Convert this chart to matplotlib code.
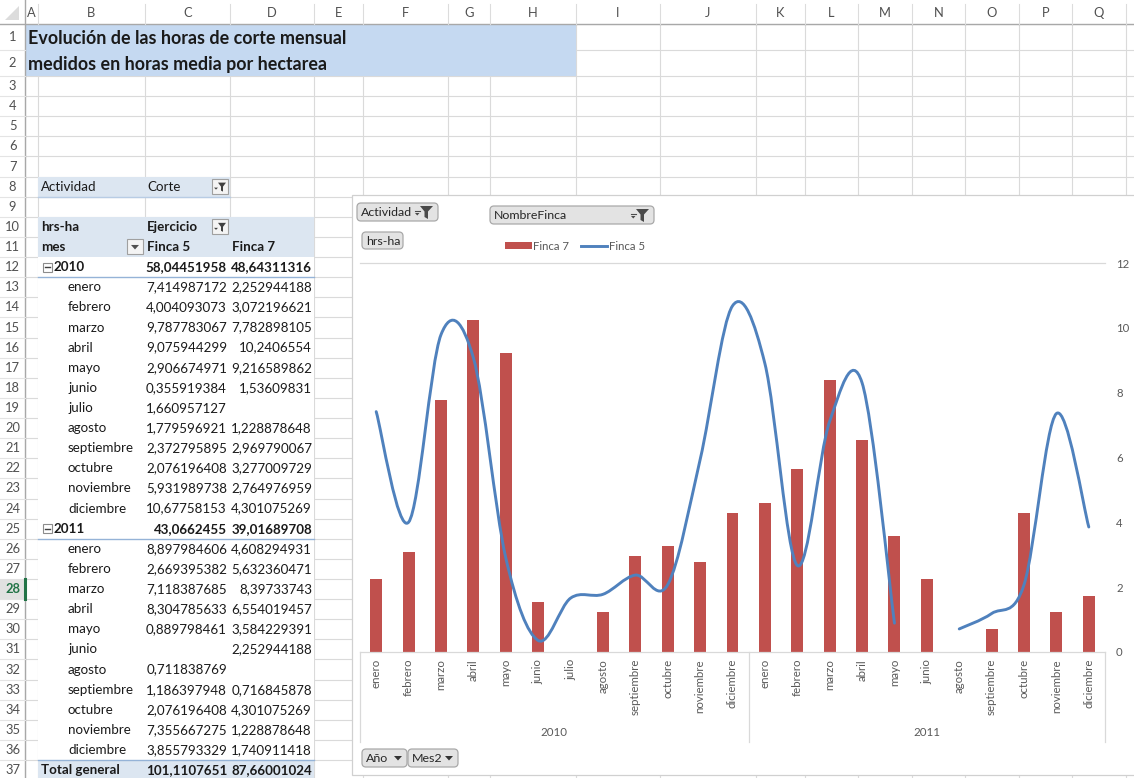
import numpy as np
import matplotlib
matplotlib.use('Agg')
import matplotlib.pyplot as plt
from matplotlib.patches import Rectangle, FancyBboxPatch, Polygon, Patch, PathPatch
from matplotlib.lines import Line2D
from matplotlib.path import Path
import matplotlib.transforms as mtransforms

plt.rcParams['font.family'] = ['Lato', 'DejaVu Sans']

# ---------------- data ----------------
title_lines = ["Evolución de las horas de corte mensual",
               "medidos en horas media por hectarea"]
years = ["2010", "2011"]
months_2010 = ["enero", "febrero", "marzo", "abril", "mayo", "junio", "julio",
               "agosto", "septiembre", "octubre", "noviembre", "diciembre"]
months_2011 = ["enero", "febrero", "marzo", "abril", "mayo", "junio",
               "agosto", "septiembre", "octubre", "noviembre", "diciembre"]
finca5_2010 = [7.414987172, 4.004093073, 9.787783067, 9.075944299, 2.906674971,
               0.355919384, 1.660957127, 1.779596921, 2.372795895, 2.076196408,
               5.931989738, 10.67758153]
finca7_2010 = [2.252944188, 3.072196621, 7.782898105, 10.2406554, 9.216589862,
               1.53609831, None, 1.228878648, 2.969790067, 3.277009729,
               2.764976959, 4.301075269]
finca5_2011 = [8.897984606, 2.669395382, 7.118387685, 8.304785633, 0.889798461,
               None, 0.711838769, 1.186397948, 2.076196408, 7.355667275,
               3.855793329]
finca7_2011 = [4.608294931, 5.632360471, 8.39733743, 6.554019457, 3.584229391,
               2.252944188, None, 0.716845878, 4.301075269, 1.228878648,
               1.740911418]
totals_finca5 = [58.04451958, 43.0662455]
totals_finca7 = [48.64311316, 39.01689708]
grand_total = [101.1107651, 87.66001024]
y_ticks = [0, 2, 4, 6, 8, 10, 12]
series_names = ["Finca 7", "Finca 5"]

# ---------------- layout ----------------
W, H = 1134, 778
fig = plt.figure(figsize=(W / 100, H / 100), dpi=100)
bg = fig.add_axes([0, 0, 1, 1])
bg.set_xlim(0, W)
bg.set_ylim(H, 0)
bg.axis('off')

TXT = '#1a1a1a'
GRID = '#dadada'
HDR_TXT = '#505050'
RH = 20.12

col_names = list("ABCDEFGHIJKLMNOPQ")
col_edges = [25, 38, 145, 230, 314, 363, 448, 490, 576, 660, 756, 805, 858,
             912, 965, 1019, 1072, 1126]


def row_top(r):
    if r == 1:
        return 24
    if r == 2:
        return 50
    return 76 + (r - 3) * RH


def row_mid(r):
    return (row_top(r) + row_top(r + 1)) / 2


def xl(v):
    if v is None:
        return ''
    ip = len(str(int(abs(v))))
    s = f"{v:.{10 - ip}f}".rstrip('0').rstrip('.')
    return s.replace('.', ',')


# gridlines
for r in range(1, 39):
    y = row_top(r)
    bg.plot([25, W], [y, y], color=GRID, lw=0.8, zorder=1)
for x in col_edges:
    bg.plot([x, x], [24, H], color=GRID, lw=0.8, zorder=1)

# headers
bg.add_patch(Rectangle((0, 0), W, 24, facecolor='white', edgecolor='none', zorder=2))
bg.add_patch(Rectangle((0, 0), 25, H, facecolor='white', edgecolor='none', zorder=2))
bg.plot([0, W], [24, 24], color='#a8a8a8', lw=1.0, zorder=3)
bg.plot([25, 25], [0, H], color='#a8a8a8', lw=1.0, zorder=3)
for x in col_edges[1:]:
    bg.plot([x, x], [4, 24], color='#dcdcdc', lw=0.8, zorder=3)
bg.add_patch(Polygon([[19, 6], [19, 20], [5, 20]], closed=True,
                     facecolor='#dcdcdc', edgecolor='none', zorder=3))
for i, c in enumerate(col_names):
    bg.text((col_edges[i] + col_edges[i + 1]) / 2, 13, c, ha='center', va='center',
            fontsize=9.3, color=HDR_TXT, zorder=4)
for r in range(1, 38):
    if r == 28:
        bg.add_patch(Rectangle((0, row_top(r)), 25, RH, facecolor='#e1e1e1',
                               edgecolor='none', zorder=3))
        bg.plot([25, 25], [row_top(r), row_top(r + 1)], color='#217346', lw=2.2, zorder=4)
        bg.text(12.5, row_mid(r), str(r), ha='center', va='center', fontsize=9.3,
                color='#217346', fontweight='bold', zorder=4)
    else:
        bg.text(12.5, row_mid(r), str(r), ha='center', va='center', fontsize=9.3,
                color=HDR_TXT, zorder=4)
    bg.plot([0, 25], [row_top(r + 1), row_top(r + 1)], color='#e4e4e4', lw=0.8, zorder=3)

# title
bg.add_patch(Rectangle((25, 24), 576 - 25, 52, facecolor='#c5d9f1',
                       edgecolor='none', zorder=2))
bg.text(28, row_mid(1) + 1, title_lines[0], ha='left', va='center', fontsize=12.9,
        fontweight='bold', color=TXT, zorder=4)
bg.text(28, row_mid(2) + 1, title_lines[1], ha='left', va='center', fontsize=12.9,
        fontweight='bold', color=TXT, zorder=4)

# pivot table
PFILL = '#dce6f1'
PLINE = '#95b3d7'
bx0, cx0, dx0, ex0 = 38, 145, 230, 314
bg.add_patch(Rectangle((bx0, row_top(8)), cx0 + 85 - bx0, RH, facecolor=PFILL,
                       edgecolor='none', zorder=2))
bg.plot([bx0, 230], [row_top(9), row_top(9)], color='#b8cce4', lw=1.0, zorder=3)
bg.add_patch(Rectangle((bx0, row_top(10)), ex0 - bx0, row_top(37) - row_top(10),
                       facecolor='white', edgecolor='none', zorder=2))
bg.add_patch(Rectangle((bx0, row_top(10)), ex0 - bx0, 2 * RH, facecolor=PFILL,
                       edgecolor='none', zorder=2))
bg.add_patch(Rectangle((bx0, row_top(37)), ex0 - bx0, RH, facecolor=PFILL,
                       edgecolor='none', zorder=2))
bg.plot([bx0, ex0], [row_top(37), row_top(37)], color=PLINE, lw=1.0, zorder=3)
bg.plot([bx0, ex0], [row_top(13), row_top(13)], color=PLINE, lw=1.0, zorder=3)
bg.plot([bx0, ex0], [row_top(26), row_top(26)], color=PLINE, lw=1.0, zorder=3)

FS = 9.6


def filter_box(x0, y0, w=16, h=15, funnel=True):
    bg.add_patch(Rectangle((x0, y0), w, h, facecolor='#f4f4f4', edgecolor='#a0a0a0',
                           lw=0.8, zorder=4))
    cx, cy = x0 + w / 2, y0 + h / 2
    if funnel:
        bg.add_patch(Polygon([[cx - 2, cy - 4], [cx + 6, cy - 4], [cx + 3, cy],
                              [cx + 3, cy + 5], [cx + 1, cy + 4], [cx + 1, cy]],
                             closed=True, facecolor='#404040', edgecolor='none', zorder=5))
        bg.add_patch(Polygon([[cx - 6, cy + 1], [cx - 2, cy + 1], [cx - 4, cy + 3]],
                             closed=True, facecolor='#404040', edgecolor='none', zorder=5))
    else:
        bg.add_patch(Polygon([[cx - 4, cy - 2], [cx + 4, cy - 2], [cx, cy + 2.5]],
                             closed=True, facecolor='#505050', edgecolor='none', zorder=5))


bg.text(41, row_mid(8), "Actividad", ha='left', va='center', fontsize=FS, color=TXT, zorder=4)
bg.text(147, row_mid(8), "Corte", ha='left', va='center', fontsize=FS, color=TXT, zorder=4)
filter_box(212, row_top(8) + 2.5)
bg.text(41, row_mid(10), "hrs-ha", ha='left', va='center', fontsize=FS, color=TXT,
        fontweight='bold', zorder=4)
bg.text(147, row_mid(10), "Ejercicio", ha='left', va='center', fontsize=FS, color=TXT,
        fontweight='bold', zorder=4)
filter_box(212, row_top(10) + 2.5)
bg.text(41, row_mid(11), "mes", ha='left', va='center', fontsize=FS, color=TXT,
        fontweight='bold', zorder=4)
filter_box(127, row_top(11) + 2.5, funnel=False)
bg.text(147, row_mid(11), series_names[1], ha='left', va='center', fontsize=FS,
        color=TXT, fontweight='bold', zorder=4)
bg.text(232, row_mid(11), series_names[0], ha='left', va='center', fontsize=FS,
        color=TXT, fontweight='bold', zorder=4)


def year_row(r, label, v5, v7):
    y = row_mid(r)
    bg.add_patch(Rectangle((43, y - 4.5), 9, 9, facecolor='white', edgecolor='#8c8c8c',
                           lw=0.8, zorder=4))
    bg.plot([45, 50], [y, y], color='#404040', lw=1.0, zorder=5)
    bg.text(54, y, label, ha='left', va='center', fontsize=FS, color=TXT,
            fontweight='bold', zorder=4)
    bg.text(227, y, xl(v5), ha='right', va='center', fontsize=FS, color=TXT,
            fontweight='bold', zorder=4)
    bg.text(312, y, xl(v7), ha='right', va='center', fontsize=FS, color=TXT,
            fontweight='bold', zorder=4)


def month_rows(r0, months, v5s, v7s):
    for k, (m, a, b) in enumerate(zip(months, v5s, v7s)):
        y = row_mid(r0 + k)
        bg.text(68, y, m, ha='left', va='center', fontsize=FS, color=TXT, zorder=4)
        bg.text(227, y, xl(a), ha='right', va='center', fontsize=FS, color=TXT, zorder=4)
        bg.text(312, y, xl(b), ha='right', va='center', fontsize=FS, color=TXT, zorder=4)


year_row(12, years[0], totals_finca5[0], totals_finca7[0])
month_rows(13, months_2010, finca5_2010, finca7_2010)
year_row(25, years[1], totals_finca5[1], totals_finca7[1])
month_rows(26, months_2011, finca5_2011, finca7_2011)
bg.text(41, row_mid(37), "Total general", ha='left', va='center', fontsize=FS,
        color=TXT, fontweight='bold', zorder=4)
bg.text(227, row_mid(37), xl(grand_total[0]), ha='right', va='center', fontsize=FS,
        color=TXT, fontweight='bold', zorder=4)
bg.text(312, row_mid(37), xl(grand_total[1]), ha='right', va='center', fontsize=FS,
        color=TXT, fontweight='bold', zorder=4)

# ---------------- chart object ----------------
bg.add_patch(Rectangle((352, 195), 800, 580, facecolor='white', edgecolor='#d0d0d0',
                       lw=0.9, zorder=6))


def button(x0, y0, w, h, label, kind=None):
    bg.add_patch(FancyBboxPatch((x0, y0), w, h, boxstyle="round,pad=0,rounding_size=4",
                                facecolor='#e3e3e3', edgecolor='#a9a9a9', lw=0.9, zorder=7))
    bg.text(x0 + 4, y0 + h / 2 + 0.5, label, ha='left', va='center', fontsize=8.9,
            color='#262626', zorder=8)
    if kind == 'funnel':
        fx, fy = x0 + w - 12, y0 + h / 2
        bg.add_patch(Polygon([[fx - 6, fy - 6], [fx + 7, fy - 6], [fx + 2, fy - 0.5],
                              [fx + 2, fy + 7], [fx - 1.5, fy + 5], [fx - 1.5, fy - 0.5]],
                             closed=True, facecolor='#4a4a4a', edgecolor='none', zorder=8))
        bg.add_patch(Polygon([[fx - 11, fy + 1], [fx - 6.5, fy + 1], [fx - 8.75, fy + 3.5]],
                             closed=True, facecolor='#4a4a4a', edgecolor='none', zorder=8))
        bg.plot([fx - 11, fx - 6.5], [fy - 1, fy - 1], color='#4a4a4a', lw=0.8, zorder=8)
    elif kind == 'drop':
        fx, fy = x0 + w - 9, y0 + h / 2
        bg.add_patch(Polygon([[fx - 4, fy - 2], [fx + 4, fy - 2], [fx, fy + 2.5]],
                             closed=True, facecolor='#333333', edgecolor='none', zorder=8))


button(357, 203, 81, 18, "Actividad", 'funnel')
button(490, 206, 164, 18, "NombreFinca", 'funnel')
button(362, 232, 41, 17, "hrs-ha")
button(362, 749, 45, 18, "Año", 'drop')
button(408, 749, 50, 18, "Mes2", 'drop')

# plot area
ax = fig.add_axes([360 / W, (H - 652) / H, 745 / W, 389 / H])
ax.set_zorder(10)
ax.patch.set_alpha(0)
x2010 = list(range(len(months_2010)))
x2011 = list(range(len(months_2010), len(months_2010) + len(months_2011)))
xs_all = x2010 + x2011
f5_all = finca5_2010 + finca5_2011
f7_all = finca7_2010 + finca7_2011
labels_all = months_2010 + months_2011

RED = '#c0504d'
BLUE = '#4f81bd'
bx = [x for x, v in zip(xs_all, f7_all) if v is not None]
bv = [v for v in f7_all if v is not None]
ax.bar(bx, bv, width=0.37, color=RED, zorder=2)


def smooth_path(xs, ys):
    n = len(xs)
    verts = [(xs[0], ys[0])]
    codes = [Path.MOVETO]
    for i in range(n - 1):
        p0 = (xs[i - 1], ys[i - 1]) if i > 0 else (xs[i], ys[i])
        p1 = (xs[i], ys[i])
        p2 = (xs[i + 1], ys[i + 1])
        p3 = (xs[i + 2], ys[i + 2]) if i + 2 < n else p2
        c1 = (p1[0] + (p2[0] - p0[0]) / 6, p1[1] + (p2[1] - p0[1]) / 6)
        c2 = (p2[0] - (p3[0] - p1[0]) / 6, p2[1] - (p3[1] - p1[1]) / 6)
        verts += [c1, c2, p2]
        codes += [Path.CURVE4] * 3
    return Path(verts, codes)


segs, cur = [], []
for x, v in zip(xs_all, f5_all):
    if v is None:
        if cur:
            segs.append(cur)
        cur = []
    else:
        cur.append((x, v))
if cur:
    segs.append(cur)
for s in segs:
    sx = [p[0] for p in s]
    sy = [p[1] for p in s]
    ax.add_patch(PathPatch(smooth_path(sx, sy), facecolor='none', edgecolor=BLUE,
                           lw=2.1, capstyle='round', joinstyle='round', zorder=3))

ax.set_xlim(-0.5, len(xs_all) - 0.5)
ax.set_ylim(0, 12)
for k in ['left', 'right']:
    ax.spines[k].set_visible(False)
for k in ['top', 'bottom']:
    ax.spines[k].set_color('#d9d9d9')
    ax.spines[k].set_linewidth(0.9)
ax.yaxis.tick_right()
ax.set_yticks(y_ticks)
ax.tick_params(axis='y', length=0, pad=8, labelsize=8.2, labelcolor='#595959')
ax.set_xticks(xs_all)
ax.set_xticklabels(labels_all, rotation=90, fontsize=8.3, color='#595959')
ax.tick_params(axis='x', length=0, pad=5)

trans = mtransforms.blended_transform_factory(ax.transData, ax.transAxes)
grp_h = 90 / 389
for xb in [-0.5, len(months_2010) - 0.5, len(xs_all) - 0.5]:
    ax.plot([xb, xb], [0, -grp_h], transform=trans, color='#d9d9d9', lw=0.9,
            clip_on=False)
ax.text((x2010[0] + x2010[-1]) / 2, -81 / 389, years[0], transform=trans,
        ha='center', va='center', fontsize=8.3, color='#595959')
ax.text((x2011[0] + x2011[-1]) / 2, -81 / 389, years[1], transform=trans,
        ha='center', va='center', fontsize=8.3, color='#595959')

handles = [Patch(facecolor=RED, edgecolor='none'), Line2D([], [], color=BLUE, lw=2.1)]
leg = fig.legend(handles, series_names, loc='center', bbox_to_anchor=(575 / W, 1 - 246 / H),
                 ncol=2, frameon=False, fontsize=8.2, handlelength=2.3, handleheight=0.45,
                 columnspacing=1.0, handletextpad=0.15, labelcolor='#595959')
leg.set_zorder(12)

fig.savefig('out.png', dpi=100)
